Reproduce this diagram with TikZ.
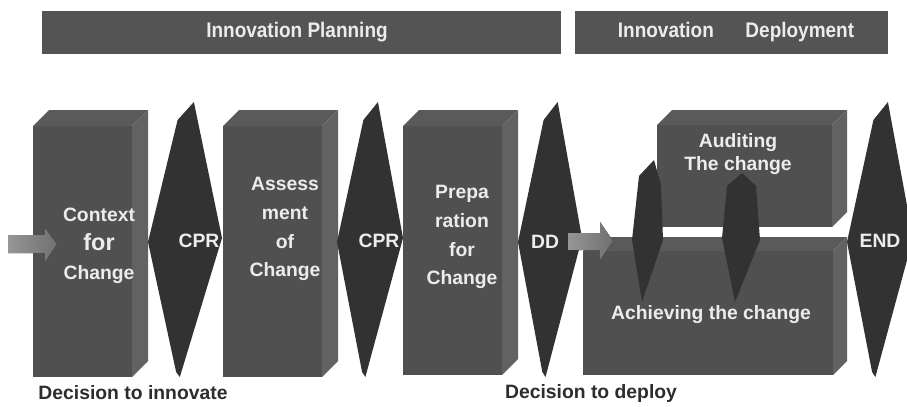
\documentclass[tikz,border=0pt]{standalone}
\usepackage{fontspec}
\setmainfont{Liberation Sans}
\definecolor{barfill}{RGB}{84,84,84}
\definecolor{boxfront}{RGB}{80,80,80}
\definecolor{boxtop}{RGB}{90,90,90}
\definecolor{boxside}{RGB}{98,98,98}
\definecolor{gatefill}{RGB}{50,50,50}
\definecolor{facewhite}{RGB}{236,236,236}
\definecolor{capgray}{RGB}{45,45,45}
\definecolor{arrowlight}{RGB}{150,150,150}
\definecolor{arrowdark}{RGB}{112,112,112}
\tikzset{
  facetext/.style={text=facewhite, align=center, inner sep=0pt},
  headtext/.style={text=facewhite, inner sep=0pt, font=\bfseries\fontsize{18}{20}\selectfont},
  captext/.style={text=capgray, inner sep=0pt},
  blockarrow/.style={left color=arrowlight, right color=arrowdark}
}
\begin{document}
\begin{tikzpicture}[x=0.03cm, y=-0.03cm, line join=round, font=\bfseries\fontsize{16.5}{24.6}\selectfont]
\useasboundingbox (0,0) rectangle (907,406);
\clip (0,0) rectangle (907,406);
% phase bars
\fill[barfill] (42,11) rectangle (561,54);
\fill[barfill] (575,11) rectangle (888,54);
\node[headtext] (barPlan) at (297,32) {\scalebox{0.9}[1]{Innovation Planning}};
\node[headtext] (barDeploy) at (736,32) {\scalebox{0.9}[1]{Innovation\hspace{30pt}Deployment}};
% bevelled blocks: left/right/top/bottom/depth
\foreach \xa/\xb/\ya/\yb/\d in {33/148/110/377/16, 223/338/110/377/16, 403/518/110/375/16, 583/847/237/375/14, 657/847/110/227/15}{
  \fill[boxfront] (\xa,\ya+\d) rectangle (\xb-\d,\yb);
  \fill[boxtop] (\xa,\ya+\d)--(\xa+\d,\ya)--(\xb,\ya)--(\xb-\d,\ya+\d)--cycle;
  \fill[boxside] (\xb-\d,\ya+\d)--(\xb,\ya)--(\xb,\yb-\d)--(\xb-\d,\yb)--cycle;
}
% gates between the blocks
\foreach \l/\w in {148/74, 337/66, 518/64, 847/66}
  \fill[gatefill] (\l+0.62*\w,102)--(\l+0.4*\w,120)--(\l,242)--(\l+0.38*\w,372)--(\l+0.43*\w,377)--(\l+\w,238)--cycle;
\fill[gatefill] (654,160)--(639,176)--(632,240)--(642,302)--(663,240)--(661,185)--cycle;
\fill[gatefill] (742,173)--(727,186)--(722,238)--(735,302)--(760,240)--(756,186)--cycle;
% block arrows
\fill[blockarrow] (8,235)--(45,235)--(45,228)--(57,244)--(45,262)--(45,253)--(8,253)--cycle;
\fill[blockarrow] (568,233)--(600,233)--(600,222)--(613,241)--(600,260)--(600,250)--(568,250)--cycle;
% texts
\node[facetext] (context) at (99,246) {Context\\{\fontsize{20}{24.6}\selectfont for}\\Change};
\node[facetext] (assess) at (285,229) {Assess\\ment\\of\\Change};
\node[facetext] (prep) at (462,237) {Prepa\\ration\\for\\Change};
\node[facetext, font=\bfseries\fontsize{16.5}{20.4}\selectfont] (audit) at (738,154) {Auditing\\The change};
\node[facetext] (achieve) at (711,315) {Achieving the change};
\node[facetext] (cprA) at (199,241) {CPR};
\node[facetext] (cprB) at (379,241) {CPR};
\node[facetext] (dd) at (545,242) {DD};
\node[facetext] (fin) at (880,241) {END};
\node[captext] (decInnovate) at (133,393) {Decision to innovate};
\node[captext] (decDeploy) at (591,393) {Decision to deploy};
\end{tikzpicture}
\end{document}
